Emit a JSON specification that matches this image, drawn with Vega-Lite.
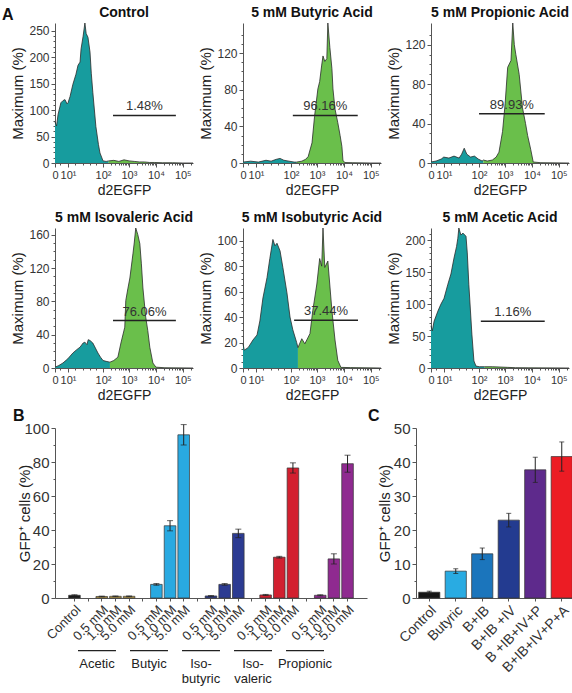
{
"$schema": "https://vega.github.io/schema/vega-lite/v6.json",
"padding": {"left": 1, "top": 6, "right": 0, "bottom": 0},
"config": {
  "font": "Liberation Sans",
  "view": {"stroke": null},
  "axis": {"labelFont": "Liberation Sans", "titleFont": "Liberation Sans", "labelColor": "#333", "titleColor": "#222", "titleFontWeight": "normal", "domainColor": "#555", "tickColor": "#555", "grid": false, "labelFontSize": 12, "titleFontSize": 15},
  "title": {"font": "Liberation Sans", "fontSize": 14, "fontWeight": "bold", "color": "#111", "offset": 1},
  "text": {"font": "Liberation Sans"}
},
"resolve": {"scale": {"color": "independent"}},
"datasets": {
  "hist": [
    {"panel":"Control","gate":"GFP−","x":0,"pct":78},{"panel":"Control","gate":"GFP−","x":0.06,"pct":70},{"panel":"Control","gate":"GFP−","x":0.12,"pct":92},{"panel":"Control","gate":"GFP−","x":0.23,"pct":114},{"panel":"Control","gate":"GFP−","x":0.31,"pct":118},{"panel":"Control","gate":"GFP−","x":0.39,"pct":120},{"panel":"Control","gate":"GFP−","x":0.47,"pct":112},{"panel":"Control","gate":"GFP−","x":0.51,"pct":114},{"panel":"Control","gate":"GFP−","x":0.59,"pct":126},{"panel":"Control","gate":"GFP−","x":0.7,"pct":149},{"panel":"Control","gate":"GFP−","x":0.82,"pct":168},{"panel":"Control","gate":"GFP−","x":0.9,"pct":185},{"panel":"Control","gate":"GFP−","x":0.98,"pct":191},{"panel":"Control","gate":"GFP−","x":1.02,"pct":216},{"panel":"Control","gate":"GFP−","x":1.1,"pct":240},{"panel":"Control","gate":"GFP−","x":1.17,"pct":265},{"panel":"Control","gate":"GFP−","x":1.22,"pct":245},{"panel":"Control","gate":"GFP−","x":1.29,"pct":238},{"panel":"Control","gate":"GFP−","x":1.37,"pct":210},{"panel":"Control","gate":"GFP−","x":1.42,"pct":170},{"panel":"Control","gate":"GFP−","x":1.48,"pct":134},{"panel":"Control","gate":"GFP−","x":1.6,"pct":69},{"panel":"Control","gate":"GFP−","x":1.7,"pct":35},{"panel":"Control","gate":"GFP−","x":1.76,"pct":19},{"panel":"Control","gate":"GFP−","x":1.88,"pct":4},{"panel":"Control","gate":"GFP−","x":2.0,"pct":3},{"panel":"Control","gate":"GFP−","x":2.1,"pct":4},
    {"panel":"Control","gate":"GFP+","x":2.1,"pct":4},{"panel":"Control","gate":"GFP+","x":2.3,"pct":5},{"panel":"Control","gate":"GFP+","x":2.5,"pct":3},{"panel":"Control","gate":"GFP+","x":2.7,"pct":6},{"panel":"Control","gate":"GFP+","x":2.9,"pct":4},{"panel":"Control","gate":"GFP+","x":3.1,"pct":3},{"panel":"Control","gate":"GFP+","x":3.3,"pct":2},{"panel":"Control","gate":"GFP+","x":3.5,"pct":2},{"panel":"Control","gate":"GFP+","x":3.7,"pct":1},{"panel":"Control","gate":"GFP+","x":3.9,"pct":1},{"panel":"Control","gate":"GFP+","x":4.2,"pct":0.5},{"panel":"Control","gate":"GFP+","x":4.6,"pct":0.5},{"panel":"Control","gate":"GFP+","x":5.0,"pct":0},{"panel":"Control","gate":"GFP+","x":5.4,"pct":0},

    {"panel":"Butyric","gate":"GFP−","x":0,"pct":1},{"panel":"Butyric","gate":"GFP−","x":0.3,"pct":2},{"panel":"Butyric","gate":"GFP−","x":0.6,"pct":1},{"panel":"Butyric","gate":"GFP−","x":0.9,"pct":3},{"panel":"Butyric","gate":"GFP−","x":1.1,"pct":2},{"panel":"Butyric","gate":"GFP−","x":1.3,"pct":4},{"panel":"Butyric","gate":"GFP−","x":1.45,"pct":5},{"panel":"Butyric","gate":"GFP−","x":1.6,"pct":3},{"panel":"Butyric","gate":"GFP−","x":1.8,"pct":2},{"panel":"Butyric","gate":"GFP−","x":2.0,"pct":1},{"panel":"Butyric","gate":"GFP−","x":2.1,"pct":1},
    {"panel":"Butyric","gate":"GFP+","x":2.1,"pct":1},{"panel":"Butyric","gate":"GFP+","x":2.3,"pct":2},{"panel":"Butyric","gate":"GFP+","x":2.45,"pct":4},{"panel":"Butyric","gate":"GFP+","x":2.55,"pct":7},{"panel":"Butyric","gate":"GFP+","x":2.7,"pct":22},{"panel":"Butyric","gate":"GFP+","x":2.8,"pct":51},{"panel":"Butyric","gate":"GFP+","x":2.93,"pct":81},{"panel":"Butyric","gate":"GFP+","x":3.0,"pct":89},{"panel":"Butyric","gate":"GFP+","x":3.08,"pct":107},{"panel":"Butyric","gate":"GFP+","x":3.13,"pct":117},{"panel":"Butyric","gate":"GFP+","x":3.2,"pct":111},{"panel":"Butyric","gate":"GFP+","x":3.28,"pct":114},{"panel":"Butyric","gate":"GFP+","x":3.32,"pct":153},{"panel":"Butyric","gate":"GFP+","x":3.4,"pct":126},{"panel":"Butyric","gate":"GFP+","x":3.48,"pct":103},{"panel":"Butyric","gate":"GFP+","x":3.52,"pct":81},{"panel":"Butyric","gate":"GFP+","x":3.6,"pct":59},{"panel":"Butyric","gate":"GFP+","x":3.71,"pct":44},{"panel":"Butyric","gate":"GFP+","x":3.8,"pct":30},{"panel":"Butyric","gate":"GFP+","x":3.87,"pct":18},{"panel":"Butyric","gate":"GFP+","x":3.91,"pct":3},{"panel":"Butyric","gate":"GFP+","x":3.98,"pct":0.5},{"panel":"Butyric","gate":"GFP+","x":4.3,"pct":0.3},{"panel":"Butyric","gate":"GFP+","x":5.0,"pct":0},{"panel":"Butyric","gate":"GFP+","x":5.4,"pct":0},

    {"panel":"Propionic","gate":"GFP−","x":0,"pct":1},{"panel":"Propionic","gate":"GFP−","x":0.2,"pct":2},{"panel":"Propionic","gate":"GFP−","x":0.4,"pct":4},{"panel":"Propionic","gate":"GFP−","x":0.5,"pct":6},{"panel":"Propionic","gate":"GFP−","x":0.7,"pct":5},{"panel":"Propionic","gate":"GFP−","x":0.9,"pct":7},{"panel":"Propionic","gate":"GFP−","x":1.1,"pct":5},{"panel":"Propionic","gate":"GFP−","x":1.2,"pct":9},{"panel":"Propionic","gate":"GFP−","x":1.3,"pct":15},{"panel":"Propionic","gate":"GFP−","x":1.4,"pct":9},{"panel":"Propionic","gate":"GFP−","x":1.55,"pct":6},{"panel":"Propionic","gate":"GFP−","x":1.7,"pct":7},{"panel":"Propionic","gate":"GFP−","x":1.85,"pct":4},{"panel":"Propionic","gate":"GFP−","x":2.0,"pct":2},{"panel":"Propionic","gate":"GFP−","x":2.05,"pct":3},
    {"panel":"Propionic","gate":"GFP+","x":2.05,"pct":3},{"panel":"Propionic","gate":"GFP+","x":2.2,"pct":2},{"panel":"Propionic","gate":"GFP+","x":2.4,"pct":3},{"panel":"Propionic","gate":"GFP+","x":2.55,"pct":6},{"panel":"Propionic","gate":"GFP+","x":2.66,"pct":11},{"panel":"Propionic","gate":"GFP+","x":2.8,"pct":32},{"panel":"Propionic","gate":"GFP+","x":2.9,"pct":60},{"panel":"Propionic","gate":"GFP+","x":3.0,"pct":97},{"panel":"Propionic","gate":"GFP+","x":3.13,"pct":104},{"panel":"Propionic","gate":"GFP+","x":3.2,"pct":142},{"panel":"Propionic","gate":"GFP+","x":3.26,"pct":120},{"panel":"Propionic","gate":"GFP+","x":3.32,"pct":110},{"panel":"Propionic","gate":"GFP+","x":3.45,"pct":90},{"panel":"Propionic","gate":"GFP+","x":3.58,"pct":56},{"panel":"Propionic","gate":"GFP+","x":3.7,"pct":40},{"panel":"Propionic","gate":"GFP+","x":3.78,"pct":28},{"panel":"Propionic","gate":"GFP+","x":3.9,"pct":14},{"panel":"Propionic","gate":"GFP+","x":4.0,"pct":1},{"panel":"Propionic","gate":"GFP+","x":4.3,"pct":0.3},{"panel":"Propionic","gate":"GFP+","x":5.4,"pct":0},

    {"panel":"Isovaleric","gate":"GFP−","x":0,"pct":1},{"panel":"Isovaleric","gate":"GFP−","x":0.15,"pct":3},{"panel":"Isovaleric","gate":"GFP−","x":0.31,"pct":6},{"panel":"Isovaleric","gate":"GFP−","x":0.5,"pct":11},{"panel":"Isovaleric","gate":"GFP−","x":0.7,"pct":18},{"panel":"Isovaleric","gate":"GFP−","x":0.85,"pct":22},{"panel":"Isovaleric","gate":"GFP−","x":0.98,"pct":25},{"panel":"Isovaleric","gate":"GFP−","x":1.1,"pct":30},{"panel":"Isovaleric","gate":"GFP−","x":1.17,"pct":31},{"panel":"Isovaleric","gate":"GFP−","x":1.25,"pct":28},{"panel":"Isovaleric","gate":"GFP−","x":1.3,"pct":34},{"panel":"Isovaleric","gate":"GFP−","x":1.37,"pct":33},{"panel":"Isovaleric","gate":"GFP−","x":1.48,"pct":30},{"panel":"Isovaleric","gate":"GFP−","x":1.58,"pct":24},{"panel":"Isovaleric","gate":"GFP−","x":1.68,"pct":18},{"panel":"Isovaleric","gate":"GFP−","x":1.78,"pct":13},{"panel":"Isovaleric","gate":"GFP−","x":1.88,"pct":9},{"panel":"Isovaleric","gate":"GFP−","x":2.0,"pct":8},{"panel":"Isovaleric","gate":"GFP−","x":2.15,"pct":7},
    {"panel":"Isovaleric","gate":"GFP+","x":2.15,"pct":7},{"panel":"Isovaleric","gate":"GFP+","x":2.3,"pct":9},{"panel":"Isovaleric","gate":"GFP+","x":2.46,"pct":13},{"panel":"Isovaleric","gate":"GFP+","x":2.58,"pct":30},{"panel":"Isovaleric","gate":"GFP+","x":2.73,"pct":49},{"panel":"Isovaleric","gate":"GFP+","x":2.77,"pct":81},{"panel":"Isovaleric","gate":"GFP+","x":2.85,"pct":95},{"panel":"Isovaleric","gate":"GFP+","x":2.93,"pct":108},{"panel":"Isovaleric","gate":"GFP+","x":3.05,"pct":137},{"panel":"Isovaleric","gate":"GFP+","x":3.1,"pct":150},{"panel":"Isovaleric","gate":"GFP+","x":3.16,"pct":168},{"panel":"Isovaleric","gate":"GFP+","x":3.24,"pct":160},{"panel":"Isovaleric","gate":"GFP+","x":3.32,"pct":149},{"panel":"Isovaleric","gate":"GFP+","x":3.38,"pct":125},{"panel":"Isovaleric","gate":"GFP+","x":3.44,"pct":96},{"panel":"Isovaleric","gate":"GFP+","x":3.55,"pct":61},{"panel":"Isovaleric","gate":"GFP+","x":3.63,"pct":45},{"panel":"Isovaleric","gate":"GFP+","x":3.71,"pct":25},{"panel":"Isovaleric","gate":"GFP+","x":3.83,"pct":6},{"panel":"Isovaleric","gate":"GFP+","x":3.95,"pct":1},{"panel":"Isovaleric","gate":"GFP+","x":4.3,"pct":0.3},{"panel":"Isovaleric","gate":"GFP+","x":5.4,"pct":0},

    {"panel":"Isobutyric","gate":"GFP−","x":0,"pct":19},{"panel":"Isobutyric","gate":"GFP−","x":0.05,"pct":14},{"panel":"Isobutyric","gate":"GFP−","x":0.2,"pct":16},{"panel":"Isobutyric","gate":"GFP−","x":0.39,"pct":22},{"panel":"Isobutyric","gate":"GFP−","x":0.55,"pct":26},{"panel":"Isobutyric","gate":"GFP−","x":0.66,"pct":37},{"panel":"Isobutyric","gate":"GFP−","x":0.78,"pct":55},{"panel":"Isobutyric","gate":"GFP−","x":0.94,"pct":71},{"panel":"Isobutyric","gate":"GFP−","x":1.05,"pct":86},{"panel":"Isobutyric","gate":"GFP−","x":1.17,"pct":101},{"panel":"Isobutyric","gate":"GFP−","x":1.25,"pct":96},{"panel":"Isobutyric","gate":"GFP−","x":1.33,"pct":98},{"panel":"Isobutyric","gate":"GFP−","x":1.45,"pct":92},{"panel":"Isobutyric","gate":"GFP−","x":1.56,"pct":79},{"panel":"Isobutyric","gate":"GFP−","x":1.72,"pct":59},{"panel":"Isobutyric","gate":"GFP−","x":1.84,"pct":40},{"panel":"Isobutyric","gate":"GFP−","x":1.95,"pct":30},{"panel":"Isobutyric","gate":"GFP−","x":2.1,"pct":20},{"panel":"Isobutyric","gate":"GFP−","x":2.15,"pct":16},
    {"panel":"Isobutyric","gate":"GFP+","x":2.15,"pct":16},{"panel":"Isobutyric","gate":"GFP+","x":2.3,"pct":23},{"panel":"Isobutyric","gate":"GFP+","x":2.42,"pct":19},{"panel":"Isobutyric","gate":"GFP+","x":2.62,"pct":27},{"panel":"Isobutyric","gate":"GFP+","x":2.73,"pct":45},{"panel":"Isobutyric","gate":"GFP+","x":2.89,"pct":66},{"panel":"Isobutyric","gate":"GFP+","x":3.0,"pct":86},{"panel":"Isobutyric","gate":"GFP+","x":3.08,"pct":80},{"panel":"Isobutyric","gate":"GFP+","x":3.13,"pct":110},{"panel":"Isobutyric","gate":"GFP+","x":3.2,"pct":79},{"panel":"Isobutyric","gate":"GFP+","x":3.32,"pct":84},{"panel":"Isobutyric","gate":"GFP+","x":3.48,"pct":45},{"panel":"Isobutyric","gate":"GFP+","x":3.6,"pct":22},{"panel":"Isobutyric","gate":"GFP+","x":3.71,"pct":6},{"panel":"Isobutyric","gate":"GFP+","x":3.83,"pct":0.5},{"panel":"Isobutyric","gate":"GFP+","x":4.2,"pct":0.3},{"panel":"Isobutyric","gate":"GFP+","x":5.4,"pct":0},

    {"panel":"Acetic","gate":"GFP−","x":0,"pct":66},{"panel":"Acetic","gate":"GFP−","x":0.05,"pct":58},{"panel":"Acetic","gate":"GFP−","x":0.12,"pct":73},{"panel":"Acetic","gate":"GFP−","x":0.27,"pct":89},{"panel":"Acetic","gate":"GFP−","x":0.39,"pct":100},{"panel":"Acetic","gate":"GFP−","x":0.51,"pct":109},{"panel":"Acetic","gate":"GFP−","x":0.66,"pct":131},{"panel":"Acetic","gate":"GFP−","x":0.78,"pct":147},{"panel":"Acetic","gate":"GFP−","x":0.9,"pct":172},{"panel":"Acetic","gate":"GFP−","x":1.0,"pct":190},{"panel":"Acetic","gate":"GFP−","x":1.05,"pct":203},{"panel":"Acetic","gate":"GFP−","x":1.09,"pct":219},{"panel":"Acetic","gate":"GFP−","x":1.17,"pct":208},{"panel":"Acetic","gate":"GFP−","x":1.25,"pct":211},{"panel":"Acetic","gate":"GFP−","x":1.37,"pct":206},{"panel":"Acetic","gate":"GFP−","x":1.42,"pct":180},{"panel":"Acetic","gate":"GFP−","x":1.48,"pct":131},{"panel":"Acetic","gate":"GFP−","x":1.6,"pct":53},{"panel":"Acetic","gate":"GFP−","x":1.68,"pct":11},{"panel":"Acetic","gate":"GFP−","x":1.76,"pct":3},{"panel":"Acetic","gate":"GFP−","x":1.9,"pct":2},{"panel":"Acetic","gate":"GFP−","x":2.1,"pct":2},
    {"panel":"Acetic","gate":"GFP+","x":2.1,"pct":2},{"panel":"Acetic","gate":"GFP+","x":2.4,"pct":2},{"panel":"Acetic","gate":"GFP+","x":2.7,"pct":1.5},{"panel":"Acetic","gate":"GFP+","x":3.0,"pct":1},{"panel":"Acetic","gate":"GFP+","x":3.3,"pct":0.5},{"panel":"Acetic","gate":"GFP+","x":3.8,"pct":0.3},{"panel":"Acetic","gate":"GFP+","x":5.4,"pct":0}
  ],
  "gates": [
    {"panel":"Control","x":2.27,"xEnd":4.73,"pct":90,"label":"1.48%"},
    {"panel":"Butyric","x":1.95,"xEnd":4.49,"pct":52,"label":"96.16%"},
    {"panel":"Propionic","x":1.88,"xEnd":4.45,"pct":50,"label":"89.93%"},
    {"panel":"Isovaleric","x":2.27,"xEnd":4.73,"pct":57,"label":"76.06%"},
    {"panel":"Isobutyric","x":2.0,"xEnd":4.5,"pct":37.5,"label":"37.44%"},
    {"panel":"Acetic","x":1.95,"xEnd":4.45,"pct":73,"label":"1.16%"}
  ],
  "acids": [
    {"bar":"Control","acid":"Control","mean":1.6,"err":0.3},
    {"bar":"0.5 mM (Acetic)","acid":"Acetic","mean":0.9,"err":0.2},
    {"bar":"1.0 mM (Acetic)","acid":"Acetic","mean":1.0,"err":0.2},
    {"bar":"5.0 mM (Acetic)","acid":"Acetic","mean":1.0,"err":0.2},
    {"bar":"0.5 mM (Butyric)","acid":"Butyric","mean":8.0,"err":0.5},
    {"bar":"1.0 mM (Butyric)","acid":"Butyric","mean":42.5,"err":3},
    {"bar":"5.0 mM (Butyric)","acid":"Butyric","mean":96,"err":6},
    {"bar":"0.5 mM (Isobutyric)","acid":"Isobutyric","mean":1.2,"err":0.2},
    {"bar":"1.0 mM (Isobutyric)","acid":"Isobutyric","mean":8.0,"err":0.5},
    {"bar":"5.0 mM (Isobutyric)","acid":"Isobutyric","mean":38,"err":2.5},
    {"bar":"0.5 mM (Isovaleric)","acid":"Isovaleric","mean":1.8,"err":0.3},
    {"bar":"1.0 mM (Isovaleric)","acid":"Isovaleric","mean":24,"err":0.5},
    {"bar":"5.0 mM (Isovaleric)","acid":"Isovaleric","mean":76.5,"err":3},
    {"bar":"0.5 mM (Propionic)","acid":"Propionic","mean":1.6,"err":0.3},
    {"bar":"1.0 mM (Propionic)","acid":"Propionic","mean":23,"err":3},
    {"bar":"5.0 mM (Propionic)","acid":"Propionic","mean":79,"err":5}
  ],
  "groups": [
    {"group":"Acetic","label":"Acetic"},
    {"group":"Butyric","label":"Butyic"},
    {"group":"Isobutyric","label":"Iso-\nbutyric"},
    {"group":"Isovaleric","label":"Iso-\nvaleric"},
    {"group":"Propionic","label":"Propionic"}
  ],
  "combos": [
    {"combo":"Control","mean":1.7,"err":0.3},
    {"combo":"Butyric","mean":7.9,"err":0.7},
    {"combo":"B+IB","mean":13,"err":1.7},
    {"combo":"B+IB +IV","mean":22.9,"err":2},
    {"combo":"B +IB+IV+P","mean":37.7,"err":3.7},
    {"combo":"B+IB+IV+P+A","mean":41.6,"err":4.3}
  ]
},
"columns": 1,
"align": "none",
"spacing": 6,
"concat": [
  {
    "title": {"text": "A", "anchor": "start", "frame": "bounds", "fontSize": 16, "offset": -17, "dx": -9},
    "columns": 3,
    "spacing": {"column": 3, "row": 14},
    "concat": [
      {
        "title": "Control", "width": 138, "height": 140,
        "encoding": {
          "x": {"field": "x", "type": "quantitative", "scale": {"domain": [0, 5.4], "nice": false, "zero": false}, "axis": {"title": "d2EGFP", "titleFontSize": 14, "labelFontSize": 11, "values": [0,0.51,1.88,2.89,3.95,5,0.2,0.8,1.1,1.35,1.6,2.18,2.36,2.49,2.59,2.67,2.73,2.79,2.84,3.21,3.4,3.53,3.63,3.71,3.79,3.85,3.9,4.27,4.45,4.58,4.68,4.77,4.84,4.9,4.95,5.32], "labelExpr": "['0','10¹','10²','10³','10⁴','10⁵'][indexof([0,0.51,1.88,2.89,3.95,5], datum.value)] || ''", "tickSize": {"condition": {"test": "indexof([0,0.51,1.88,2.89,3.95,5], datum.value) >= 0", "value": 4}, "value": 2}, "labelFlush": false, "labelOverlap": false, "labelPadding": 2, "titlePadding": 3}},
          "y": {"field": "pct", "type": "quantitative", "stack": null, "scale": {"nice": false}, "axis": {"title": "Maximum (%)", "values": [0,10,20,30,40,50,60,70,80,90,100,110,120,130,140,150,160,170,180,190,200,210,220,230,240,250], "labelExpr": "datum.value % 50 == 0 ? datum.label : ''", "tickSize": {"condition": {"test": "datum.value % 50 == 0", "value": 4}, "value": 2}, "labelOverlap": false, "labelPadding": 2, "titlePadding": 3}}
        },
        "layer": [
          {"data": {"name": "hist"}, "transform": [{"filter": "datum.panel == 'Control'"}], "mark": {"type": "area"}, "encoding": {"color": {"field": "gate", "type": "nominal", "scale": {"domain": ["GFP−", "GFP+"], "range": ["#179c9e", "#6abf4b"]}, "legend": null}}},
          {"data": {"name": "hist"}, "transform": [{"filter": "datum.panel == 'Control'"}], "mark": {"type": "line", "color": "#2b2b2b", "strokeWidth": 0.8}, "encoding": {"detail": {"field": "gate"}}},
          {"data": {"name": "gates"}, "transform": [{"filter": "datum.panel == 'Control'"}], "mark": {"type": "rule", "color": "#222", "strokeWidth": 1.5}, "encoding": {"x2": {"field": "xEnd"}}},
          {"data": {"name": "gates"}, "transform": [{"filter": "datum.panel == 'Control'"}, {"calculate": "(datum.x + datum.xEnd) / 2", "as": "x"}], "mark": {"type": "text", "baseline": "bottom", "dy": -2, "fontSize": 13, "color": "#333"}, "encoding": {"text": {"field": "label"}}}
        ]
      },
      {
        "title": "5 mM Butyric Acid", "width": 138, "height": 140,
        "encoding": {
          "x": {"field": "x", "type": "quantitative", "scale": {"domain": [0, 5.4], "nice": false, "zero": false}, "axis": {"title": "d2EGFP", "titleFontSize": 14, "labelFontSize": 11, "values": [0,0.51,1.88,2.89,3.95,5,0.2,0.8,1.1,1.35,1.6,2.18,2.36,2.49,2.59,2.67,2.73,2.79,2.84,3.21,3.4,3.53,3.63,3.71,3.79,3.85,3.9,4.27,4.45,4.58,4.68,4.77,4.84,4.9,4.95,5.32], "labelExpr": "['0','10¹','10²','10³','10⁴','10⁵'][indexof([0,0.51,1.88,2.89,3.95,5], datum.value)] || ''", "tickSize": {"condition": {"test": "indexof([0,0.51,1.88,2.89,3.95,5], datum.value) >= 0", "value": 4}, "value": 2}, "labelFlush": false, "labelOverlap": false, "labelPadding": 2, "titlePadding": 3}},
          "y": {"field": "pct", "type": "quantitative", "stack": null, "scale": {"nice": false}, "axis": {"title": "Maximum (%)", "values": [0,10,20,30,40,50,60,70,80,90,100,110,120,130,140], "labelExpr": "datum.value % 40 == 0 ? datum.label : ''", "tickSize": {"condition": {"test": "datum.value % 40 == 0", "value": 4}, "value": 2}, "labelOverlap": false, "labelPadding": 2, "titlePadding": 3}}
        },
        "layer": [
          {"data": {"name": "hist"}, "transform": [{"filter": "datum.panel == 'Butyric'"}], "mark": {"type": "area"}, "encoding": {"color": {"field": "gate", "type": "nominal", "scale": {"domain": ["GFP−", "GFP+"], "range": ["#179c9e", "#6abf4b"]}, "legend": null}}},
          {"data": {"name": "hist"}, "transform": [{"filter": "datum.panel == 'Butyric'"}], "mark": {"type": "line", "color": "#2b2b2b", "strokeWidth": 0.8}, "encoding": {"detail": {"field": "gate"}}},
          {"data": {"name": "gates"}, "transform": [{"filter": "datum.panel == 'Butyric'"}], "mark": {"type": "rule", "color": "#222", "strokeWidth": 1.5}, "encoding": {"x2": {"field": "xEnd"}}},
          {"data": {"name": "gates"}, "transform": [{"filter": "datum.panel == 'Butyric'"}, {"calculate": "(datum.x + datum.xEnd) / 2", "as": "x"}], "mark": {"type": "text", "baseline": "bottom", "dy": -2, "fontSize": 13, "color": "#333"}, "encoding": {"text": {"field": "label"}}}
        ]
      },
      {
        "title": "5 mM Propionic Acid", "width": 138, "height": 140,
        "encoding": {
          "x": {"field": "x", "type": "quantitative", "scale": {"domain": [0, 5.4], "nice": false, "zero": false}, "axis": {"title": "d2EGFP", "titleFontSize": 14, "labelFontSize": 11, "values": [0,0.51,1.88,2.89,3.95,5,0.2,0.8,1.1,1.35,1.6,2.18,2.36,2.49,2.59,2.67,2.73,2.79,2.84,3.21,3.4,3.53,3.63,3.71,3.79,3.85,3.9,4.27,4.45,4.58,4.68,4.77,4.84,4.9,4.95,5.32], "labelExpr": "['0','10¹','10²','10³','10⁴','10⁵'][indexof([0,0.51,1.88,2.89,3.95,5], datum.value)] || ''", "tickSize": {"condition": {"test": "indexof([0,0.51,1.88,2.89,3.95,5], datum.value) >= 0", "value": 4}, "value": 2}, "labelFlush": false, "labelOverlap": false, "labelPadding": 2, "titlePadding": 3}},
          "y": {"field": "pct", "type": "quantitative", "stack": null, "scale": {"nice": false}, "axis": {"title": "Maximum (%)", "values": [0,10,20,30,40,50,60,70,80,90,100,110,120,130], "labelExpr": "datum.value % 40 == 0 ? datum.label : ''", "tickSize": {"condition": {"test": "datum.value % 40 == 0", "value": 4}, "value": 2}, "labelOverlap": false, "labelPadding": 2, "titlePadding": 3}}
        },
        "layer": [
          {"data": {"name": "hist"}, "transform": [{"filter": "datum.panel == 'Propionic'"}], "mark": {"type": "area"}, "encoding": {"color": {"field": "gate", "type": "nominal", "scale": {"domain": ["GFP−", "GFP+"], "range": ["#179c9e", "#6abf4b"]}, "legend": null}}},
          {"data": {"name": "hist"}, "transform": [{"filter": "datum.panel == 'Propionic'"}], "mark": {"type": "line", "color": "#2b2b2b", "strokeWidth": 0.8}, "encoding": {"detail": {"field": "gate"}}},
          {"data": {"name": "gates"}, "transform": [{"filter": "datum.panel == 'Propionic'"}], "mark": {"type": "rule", "color": "#222", "strokeWidth": 1.5}, "encoding": {"x2": {"field": "xEnd"}}},
          {"data": {"name": "gates"}, "transform": [{"filter": "datum.panel == 'Propionic'"}, {"calculate": "(datum.x + datum.xEnd) / 2", "as": "x"}], "mark": {"type": "text", "baseline": "bottom", "dy": -2, "fontSize": 13, "color": "#333"}, "encoding": {"text": {"field": "label"}}}
        ]
      },
      {
        "title": "5 mM Isovaleric Acid", "width": 138, "height": 140,
        "encoding": {
          "x": {"field": "x", "type": "quantitative", "scale": {"domain": [0, 5.4], "nice": false, "zero": false}, "axis": {"title": "d2EGFP", "titleFontSize": 14, "labelFontSize": 11, "values": [0,0.51,1.88,2.89,3.95,5,0.2,0.8,1.1,1.35,1.6,2.18,2.36,2.49,2.59,2.67,2.73,2.79,2.84,3.21,3.4,3.53,3.63,3.71,3.79,3.85,3.9,4.27,4.45,4.58,4.68,4.77,4.84,4.9,4.95,5.32], "labelExpr": "['0','10¹','10²','10³','10⁴','10⁵'][indexof([0,0.51,1.88,2.89,3.95,5], datum.value)] || ''", "tickSize": {"condition": {"test": "indexof([0,0.51,1.88,2.89,3.95,5], datum.value) >= 0", "value": 4}, "value": 2}, "labelFlush": false, "labelOverlap": false, "labelPadding": 2, "titlePadding": 3}},
          "y": {"field": "pct", "type": "quantitative", "stack": null, "scale": {"nice": false}, "axis": {"title": "Maximum (%)", "values": [0,10,20,30,40,50,60,70,80,90,100,110,120,130,140,150,160], "labelExpr": "datum.value % 40 == 0 ? datum.label : ''", "tickSize": {"condition": {"test": "datum.value % 40 == 0", "value": 4}, "value": 2}, "labelOverlap": false, "labelPadding": 2, "titlePadding": 3}}
        },
        "layer": [
          {"data": {"name": "hist"}, "transform": [{"filter": "datum.panel == 'Isovaleric'"}], "mark": {"type": "area"}, "encoding": {"color": {"field": "gate", "type": "nominal", "scale": {"domain": ["GFP−", "GFP+"], "range": ["#179c9e", "#6abf4b"]}, "legend": null}}},
          {"data": {"name": "hist"}, "transform": [{"filter": "datum.panel == 'Isovaleric'"}], "mark": {"type": "line", "color": "#2b2b2b", "strokeWidth": 0.8}, "encoding": {"detail": {"field": "gate"}}},
          {"data": {"name": "gates"}, "transform": [{"filter": "datum.panel == 'Isovaleric'"}], "mark": {"type": "rule", "color": "#222", "strokeWidth": 1.5}, "encoding": {"x2": {"field": "xEnd"}}},
          {"data": {"name": "gates"}, "transform": [{"filter": "datum.panel == 'Isovaleric'"}, {"calculate": "(datum.x + datum.xEnd) / 2", "as": "x"}], "mark": {"type": "text", "baseline": "bottom", "dy": -2, "fontSize": 13, "color": "#333"}, "encoding": {"text": {"field": "label"}}}
        ]
      },
      {
        "title": "5 mM Isobutyric Acid", "width": 138, "height": 140,
        "encoding": {
          "x": {"field": "x", "type": "quantitative", "scale": {"domain": [0, 5.4], "nice": false, "zero": false}, "axis": {"title": "d2EGFP", "titleFontSize": 14, "labelFontSize": 11, "values": [0,0.51,1.88,2.89,3.95,5,0.2,0.8,1.1,1.35,1.6,2.18,2.36,2.49,2.59,2.67,2.73,2.79,2.84,3.21,3.4,3.53,3.63,3.71,3.79,3.85,3.9,4.27,4.45,4.58,4.68,4.77,4.84,4.9,4.95,5.32], "labelExpr": "['0','10¹','10²','10³','10⁴','10⁵'][indexof([0,0.51,1.88,2.89,3.95,5], datum.value)] || ''", "tickSize": {"condition": {"test": "indexof([0,0.51,1.88,2.89,3.95,5], datum.value) >= 0", "value": 4}, "value": 2}, "labelFlush": false, "labelOverlap": false, "labelPadding": 2, "titlePadding": 3}},
          "y": {"field": "pct", "type": "quantitative", "stack": null, "scale": {"nice": false}, "axis": {"title": "Maximum (%)", "values": [0,5,10,15,20,25,30,35,40,45,50,55,60,65,70,75,80,85,90,95,100], "labelExpr": "datum.value % 20 == 0 ? datum.label : ''", "tickSize": {"condition": {"test": "datum.value % 20 == 0", "value": 4}, "value": 2}, "labelOverlap": false, "labelPadding": 2, "titlePadding": 3}}
        },
        "layer": [
          {"data": {"name": "hist"}, "transform": [{"filter": "datum.panel == 'Isobutyric'"}], "mark": {"type": "area"}, "encoding": {"color": {"field": "gate", "type": "nominal", "scale": {"domain": ["GFP−", "GFP+"], "range": ["#179c9e", "#6abf4b"]}, "legend": null}}},
          {"data": {"name": "hist"}, "transform": [{"filter": "datum.panel == 'Isobutyric'"}], "mark": {"type": "line", "color": "#2b2b2b", "strokeWidth": 0.8}, "encoding": {"detail": {"field": "gate"}}},
          {"data": {"name": "gates"}, "transform": [{"filter": "datum.panel == 'Isobutyric'"}], "mark": {"type": "rule", "color": "#222", "strokeWidth": 1.5}, "encoding": {"x2": {"field": "xEnd"}}},
          {"data": {"name": "gates"}, "transform": [{"filter": "datum.panel == 'Isobutyric'"}, {"calculate": "(datum.x + datum.xEnd) / 2", "as": "x"}], "mark": {"type": "text", "baseline": "bottom", "dy": -2, "fontSize": 13, "color": "#333"}, "encoding": {"text": {"field": "label"}}}
        ]
      },
      {
        "title": "5 mM Acetic Acid", "width": 138, "height": 140,
        "encoding": {
          "x": {"field": "x", "type": "quantitative", "scale": {"domain": [0, 5.4], "nice": false, "zero": false}, "axis": {"title": "d2EGFP", "titleFontSize": 14, "labelFontSize": 11, "values": [0,0.51,1.88,2.89,3.95,5,0.2,0.8,1.1,1.35,1.6,2.18,2.36,2.49,2.59,2.67,2.73,2.79,2.84,3.21,3.4,3.53,3.63,3.71,3.79,3.85,3.9,4.27,4.45,4.58,4.68,4.77,4.84,4.9,4.95,5.32], "labelExpr": "['0','10¹','10²','10³','10⁴','10⁵'][indexof([0,0.51,1.88,2.89,3.95,5], datum.value)] || ''", "tickSize": {"condition": {"test": "indexof([0,0.51,1.88,2.89,3.95,5], datum.value) >= 0", "value": 4}, "value": 2}, "labelFlush": false, "labelOverlap": false, "labelPadding": 2, "titlePadding": 3}},
          "y": {"field": "pct", "type": "quantitative", "stack": null, "scale": {"nice": false}, "axis": {"title": "Maximum (%)", "values": [0,10,20,30,40,50,60,70,80,90,100,110,120,130,140,150,160,170,180,190,200,210], "labelExpr": "datum.value % 50 == 0 ? datum.label : ''", "tickSize": {"condition": {"test": "datum.value % 50 == 0", "value": 4}, "value": 2}, "labelOverlap": false, "labelPadding": 2, "titlePadding": 3}}
        },
        "layer": [
          {"data": {"name": "hist"}, "transform": [{"filter": "datum.panel == 'Acetic'"}], "mark": {"type": "area"}, "encoding": {"color": {"field": "gate", "type": "nominal", "scale": {"domain": ["GFP−", "GFP+"], "range": ["#179c9e", "#6abf4b"]}, "legend": null}}},
          {"data": {"name": "hist"}, "transform": [{"filter": "datum.panel == 'Acetic'"}], "mark": {"type": "line", "color": "#2b2b2b", "strokeWidth": 0.8}, "encoding": {"detail": {"field": "gate"}}},
          {"data": {"name": "gates"}, "transform": [{"filter": "datum.panel == 'Acetic'"}], "mark": {"type": "rule", "color": "#222", "strokeWidth": 1.5}, "encoding": {"x2": {"field": "xEnd"}}},
          {"data": {"name": "gates"}, "transform": [{"filter": "datum.panel == 'Acetic'"}, {"calculate": "(datum.x + datum.xEnd) / 2", "as": "x"}], "mark": {"type": "text", "baseline": "bottom", "dy": -2, "fontSize": 13, "color": "#333"}, "encoding": {"text": {"field": "label"}}}
        ]
      }
    ]
  },
  {
    "title": {"text": "B", "anchor": "start", "frame": "bounds", "fontSize": 16, "dx": -4, "offset": -16},
    "spacing": 1,
    "resolve": {"scale": {"color": "independent"}},
    "hconcat": [
      {
        "bounds": "flush",
        "spacing": 52,
        "vconcat": [
          {
            "width": 312, "height": 170,
            "data": {"name": "acids"},
            "encoding": {
              "x": {"field": "bar", "type": "nominal", "sort": null, "scale": {"domain": ["Control"," ","0.5 mM (Acetic)","1.0 mM (Acetic)","5.0 mM (Acetic)","  ","0.5 mM (Butyric)","1.0 mM (Butyric)","5.0 mM (Butyric)","   ","0.5 mM (Isobutyric)","1.0 mM (Isobutyric)","5.0 mM (Isobutyric)","    ","0.5 mM (Isovaleric)","1.0 mM (Isovaleric)","5.0 mM (Isovaleric)","     ","0.5 mM (Propionic)","1.0 mM (Propionic)","5.0 mM (Propionic)"], "paddingInner": 0.15, "paddingOuter": 1.58}, "axis": {"title": null, "labelAngle": -45, "labelExpr": "split(datum.value, ' (')[0]", "labelFontSize": 13, "tickSize": 3, "labelPadding": 2}},
              "y": {"field": "mean", "type": "quantitative", "scale": {"domain": [0, 100], "nice": false}, "axis": {"title": "GFP⁺ cells (%)", "titleX": -23, "values": [0,10,20,30,40,50,60,70,80,90,100], "labelExpr": "datum.value % 20 == 0 ? datum.label : ''", "tickSize": {"condition": {"test": "datum.value % 20 == 0", "value": 4}, "value": 2}, "labelFontSize": 15, "labelPadding": 2}}
            },
            "layer": [
              {"mark": {"type": "bar", "stroke": "#333", "strokeWidth": 0.7}, "encoding": {"color": {"field": "acid", "type": "nominal", "scale": {"domain": ["Control","Acetic","Butyric","Isobutyric","Isovaleric","Propionic"], "range": ["#1a1a1a","#c9a94e","#29a9e1","#2c3b92","#d21f2f","#8f2a90"]}, "legend": null}}},
              {"mark": {"type": "errorbar", "ticks": {"size": 6}, "color": "#222"}, "encoding": {"yError": {"field": "err"}}}
            ]
          },
          {
            "width": 312, "height": 1.3,
            "data": {"name": "groups"},
            "encoding": {
              "x": {"field": "group", "type": "nominal", "sort": null, "scale": {"domain": ["Acetic","Butyric","Isobutyric","Isovaleric","Propionic"], "range": [23, 269], "paddingInner": 0.27, "paddingOuter": 0}, "axis": null}
            },
            "layer": [
              {"mark": {"type": "rect", "color": "#222"}},
              {"mark": {"type": "text", "baseline": "top", "dy": 7, "fontSize": 13, "lineBreak": "\n", "color": "#222"}, "encoding": {"text": {"field": "label"}}}
            ]
          }
        ]
      },
      {
        "title": {"text": "C", "anchor": "start", "frame": "bounds", "fontSize": 16, "dx": -9, "offset": -3},
        "width": 159, "height": 170,
        "data": {"name": "combos"},
        "encoding": {
          "x": {"field": "combo", "type": "nominal", "sort": null, "scale": {"paddingInner": 0.2, "paddingOuter": 0.1}, "axis": {"title": null, "labelAngle": -45, "labelFontSize": 14, "tickSize": 3, "labelPadding": 2}},
          "y": {"field": "mean", "type": "quantitative", "scale": {"domain": [0, 50], "nice": false}, "axis": {"title": "GFP⁺ cells (%)", "titleX": -24, "values": [0,5,10,15,20,25,30,35,40,45,50], "labelExpr": "datum.value % 10 == 0 ? datum.label : ''", "tickSize": {"condition": {"test": "datum.value % 10 == 0", "value": 4}, "value": 2}, "labelFontSize": 15, "labelPadding": 2}}
        },
        "layer": [
          {"mark": {"type": "bar", "stroke": "#333", "strokeWidth": 0.7}, "encoding": {"color": {"field": "combo", "type": "nominal", "sort": null, "scale": {"domain": ["Control","Butyric","B+IB","B+IB +IV","B +IB+IV+P","B+IB+IV+P+A"], "range": ["#151515","#29abe2","#1b75bc","#233b90","#5e2a8c","#ec1c24"]}, "legend": null}}},
          {"mark": {"type": "errorbar", "ticks": {"size": 5}, "color": "#222"}, "encoding": {"yError": {"field": "err"}}}
        ]
      }
    ]
  }
]
}
